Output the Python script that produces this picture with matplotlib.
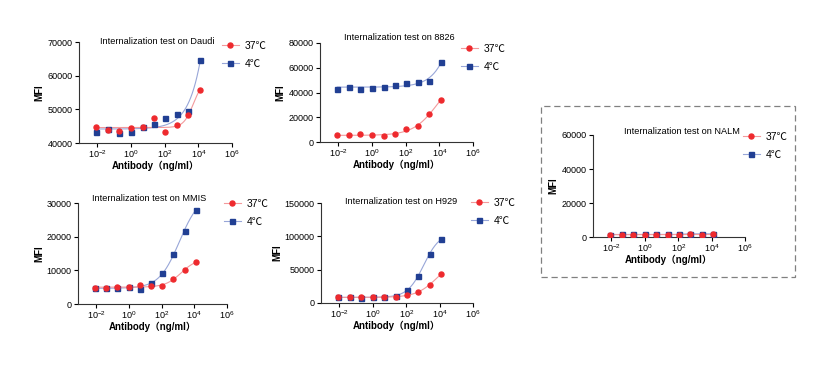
import numpy as np
import matplotlib
matplotlib.use("Agg")
import matplotlib.pyplot as plt
from matplotlib.patches import Rectangle
from matplotlib.ticker import FixedLocator, NullLocator

plt.rcParams['font.family'] = ['Liberation Sans', 'Noto Sans CJK SC', 'DejaVu Sans']
plt.rcParams['font.size'] = 7
plt.rcParams['mathtext.fontset'] = 'custom'
plt.rcParams['mathtext.rm'] = 'Liberation Sans'

# antibody concentration (ng/ml), ~5-fold dilution series
conc = [0.0087, 0.042, 0.2, 1.0, 4.8, 23, 110, 530, 2550, 12500]

daudi_37 = [44700, 43800, 43500, 44400, 44800, 47300, 43400, 45300, 48400, 55800]
daudi_4 = [43200, 44200, 42900, 43400, 44700, 45600, 47500, 48500, 49500, 64600]

r8826_37 = [5400, 5600, 6200, 5400, 5100, 6200, 10200, 13200, 22500, 34300]
r8826_4 = [43200, 44500, 43200, 43700, 44800, 45900, 47500, 48600, 49600, 64700]

mmis_37 = [4850, 4850, 4950, 4950, 5600, 5250, 5450, 7400, 10100, 12400]
mmis_4 = [4850, 4750, 4750, 4950, 4550, 6100, 9300, 14900, 21600, 28000]

h929_37 = [8500, 8500, 8500, 8500, 8500, 9500, 11500, 17000, 27500, 43500]
h929_4 = [8500, 8500, 8000, 8500, 9500, 11000, 19500, 40500, 73500, 96000]

nalm_37 = [1300, 1400, 1400, 1400, 1400, 1300, 1400, 1500, 1400, 1500]
nalm_4 = [1400, 1500, 1500, 1500, 1500, 1500, 1500, 2000, 1600, 2000]

RED = '#EE2A2E'
BLUE = '#213F93'
RED_LINE = '#F39A9C'
BLUE_LINE = '#98A6D8'

W, H = 828, 369


def fit_4pl(x, y):
    # grid search on logEC50 / hill, linear least squares for bottom/top
    lx = np.log10(x)
    y = np.asarray(y, float)
    best = None
    for c in np.linspace(-2, 7, 181):
        for h in np.linspace(0.3, 3, 28):
            s = 1.0 / (1.0 + 10 ** ((c - lx) * h))
            A = np.column_stack([1 - s, s])
            p, *_ = np.linalg.lstsq(A, y, rcond=None)
            err = np.sum((A @ p - y) ** 2)
            if best is None or err < best[0]:
                best = (err, c, h, p)
    _, c, h, p = best
    xf = np.logspace(lx.min(), lx.max(), 200)
    s = 1.0 / (1.0 + 10 ** ((c - np.log10(xf)) * h))
    return xf, p[0] * (1 - s) + p[1] * s


def px(x0, y0, x1, y1):
    return [x0 / W, 1 - y1 / H, (x1 - x0) / W, (y1 - y0) / H]


panels = [
    ("Daudi", daudi_37, daudi_4, px(79, 42, 232, 143), (40000, 70000), 10000, (0.51, 1.0), (222, 41)),
    ("8826", r8826_37, r8826_4, px(320, 43, 473, 142), (0, 80000), 20000, (0.52, 1.06), (461, 44)),
    ("MMIS", mmis_37, mmis_4, px(78, 203, 227, 304), (0, 30000), 10000, (0.48, 1.04), (224, 199)),
    ("H929", h929_37, h929_4, px(321, 203, 473, 303), (0, 150000), 50000, (0.53, 1.02), (471, 198)),
    ("NALM", nalm_37, nalm_4, px(593, 135, 745, 237), (0, 60000), 20000, (0.585, 1.03), (743, 132)),
]

fig = plt.figure(figsize=(W / 100, H / 100), dpi=100)

for name, y37, y4, rect, ylim, ystep, tpos, lpos in panels:
    ax = fig.add_axes(rect)
    xf, yf = fit_4pl(conc, y4)
    ax.plot(xf, yf, color=BLUE_LINE, lw=0.8, zorder=2)
    xf, yf = fit_4pl(conc, y37)
    ax.plot(xf, yf, color=RED_LINE, lw=0.8, zorder=2)
    ax.plot(conc, y4, 's', color=BLUE, ms=3.6, zorder=3)
    ax.plot(conc, y37, 'o', color=RED, ms=3.6, zorder=4)

    ax.set_xscale('log')
    ax.set_xlim(10 ** -3.1, 1e6)
    ax.set_ylim(*ylim)
    ax.xaxis.set_major_locator(FixedLocator([1e-2, 1e0, 1e2, 1e4, 1e6]))
    ax.xaxis.set_minor_locator(NullLocator())
    ax.set_xticklabels([r'$10^{-2}$', r'$10^{0}$', r'$10^{2}$', r'$10^{4}$', r'$10^{6}$'])
    ax.set_yticks(np.arange(ylim[0], ylim[1] + 1, ystep))
    ax.set_yticklabels([str(int(v)) for v in np.arange(ylim[0], ylim[1] + 1, ystep)])
    for s in ('top', 'right'):
        ax.spines[s].set_visible(False)
    for s in ('left', 'bottom'):
        ax.spines[s].set_linewidth(0.8)
        ax.spines[s].set_color('#333333')
    ax.tick_params(direction='out', length=3, width=0.8, labelsize=6.5, pad=1.5)
    ax.tick_params(axis='x', labelsize=6.5, pad=1)
    ax.set_ylabel('MFI', fontsize=7, fontweight='bold', labelpad=2)
    ax.set_xlabel('Antibody\uff08ng/ml\uff09', fontsize=7, fontweight='bold', labelpad=0)
    ax.text(tpos[0], tpos[1], 'Internalization test on ' + name, transform=ax.transAxes,
            ha='center', va='center', fontsize=6.6)

    h37, = ax.plot([], [], 'o-', color=RED_LINE, mfc=RED, mec=RED, ms=3.6, lw=0.8)
    h4, = ax.plot([], [], 's-', color=BLUE_LINE, mfc=BLUE, mec=BLUE, ms=3.6, lw=0.8)
    fig.legend([h37, h4], ['37\u2103', '4\u2103'], loc='upper left',
               bbox_to_anchor=(lpos[0] / W, 1 - lpos[1] / H), frameon=False,
               fontsize=7.5, handlelength=1.6, handletextpad=0.6, labelspacing=0.75,
               borderpad=0, borderaxespad=0)

fig.patches.append(Rectangle((541 / W, 1 - 277 / H), 254 / W, 171 / H, transform=fig.transFigure,
                             fill=False, edgecolor='#808080', lw=0.9, ls=(0, (5, 3))))

fig.savefig('out.png', dpi=100)
